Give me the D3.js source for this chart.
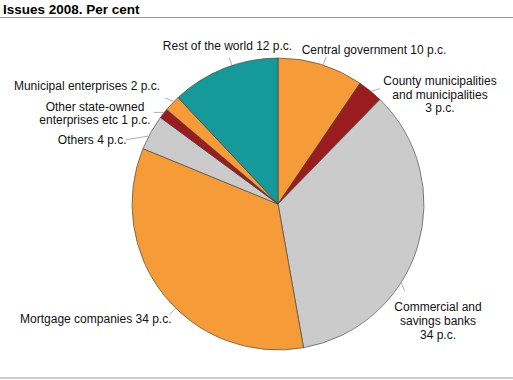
<!DOCTYPE html>
<html><head><meta charset="utf-8">
<script src="https://cdn.jsdelivr.net/npm/d3@7"></script>
<style>body{margin:0;background:#fff}svg{display:block}text{font-family:"Liberation Sans",Arial,sans-serif}</style>
</head><body>
<svg id="chart" width="513" height="380"></svg>
<script>
// ---- data ----
const categories = ["Central government","County municipalities and municipalities","Commercial and savings banks","Mortgage companies","Others","Other state-owned enterprises etc","Municipal enterprises","Rest of the world"];
const values = [9.5, 2.8, 34.9, 34.0, 3.9, 1.1, 1.8, 12.0];
const labelLines = [
  ["Central government 10 p.c."],
  ["County municipalities","and municipalities","3 p.c."],
  ["Commercial and","savings banks","34 p.c."],
  ["Mortgage companies 34 p.c."],
  ["Others 4 p.c."],
  ["Other state-owned","enterprises etc 1 p.c."],
  ["Municipal enterprises 2 p.c."],
  ["Rest of the world 12 p.c."]
];
const title = "Issues 2008. Per cent";

// ---- layout / style ----
const colors = ["#F59B38","#9B1C1F","#CBCBCB","#F59B38","#CBCBCB","#9B1C1F","#F59B38","#15999A"];
const cx = 278, cy = 204, R = 146;
// label anchor, baselines, leader (start angle on rim, end offset)
const labelLayout = [
  {x:374, ys:[54], anchor:"middle", la:18, ld:[3,-8]},
  {x:440, ys:[85,98.5,112], anchor:"middle", la:39.7, ld:[8.3,-2.7]},
  {x:438, ys:[310.7,325,339.3], anchor:"middle", la:122.7, ld:[3.3,7.7]},
  {x:171.5, ys:[323.3], anchor:"end", la:224.4, ld:[-6,6]},
  {x:126.5, ys:[144.3], anchor:"end", la:297.6, ld:[-22,3.6]},
  {x:95, ys:[111,124], anchor:"middle", la:308.7, ld:[-10,0]},
  {x:160, ys:[90], anchor:"end", la:314.5, ld:[-8.3,-3.3]},
  {x:227.5, ys:[49.5], anchor:"middle", la:341.6, ld:[-2.5,-7.5]}
];

const svg = d3.select("#chart");
svg.append("text").attr("x",3).attr("y",14).attr("font-size",13.5).attr("font-weight","bold").attr("fill","#000").text(title);
svg.append("line").attr("x1",0).attr("x2",513).attr("y1",17.5).attr("y2",17.5).attr("stroke","#999").attr("stroke-width",1.2);
svg.append("line").attr("x1",0).attr("x2",513).attr("y1",378).attr("y2",378).attr("stroke","#999").attr("stroke-width",1.2);

const data = categories.map((c,i)=>({c, v:values[i], i}));
const pie = d3.pie().value(d=>d.v).sort(null);
const arc = d3.arc().innerRadius(0).outerRadius(R);
const g = svg.append("g").attr("transform",`translate(${cx},${cy})`);
g.selectAll("path").data(pie(data)).join("path")
  .attr("d",arc).attr("fill",d=>colors[d.data.i])
  .attr("stroke","#3a3a3a").attr("stroke-width",0.6).attr("stroke-linejoin","round");

// leaders
labelLayout.forEach((L,i)=>{
  const a = L.la*Math.PI/180;
  const x1 = Math.sin(a)*(R+0.5), y1 = -Math.cos(a)*(R+0.5);
  g.append("line").attr("x1",x1).attr("y1",y1).attr("x2",x1+L.ld[0]).attr("y2",y1+L.ld[1])
    .attr("stroke","#999").attr("stroke-width",0.8);
  const t = svg.append("text").attr("font-size",12).attr("fill","#111").attr("text-anchor",L.anchor);
  labelLines[i].forEach((s,k)=>{
    t.append("tspan").attr("x",L.x).attr("y",L.ys[k]).text(s);
  });
});
</script>
</body></html>
